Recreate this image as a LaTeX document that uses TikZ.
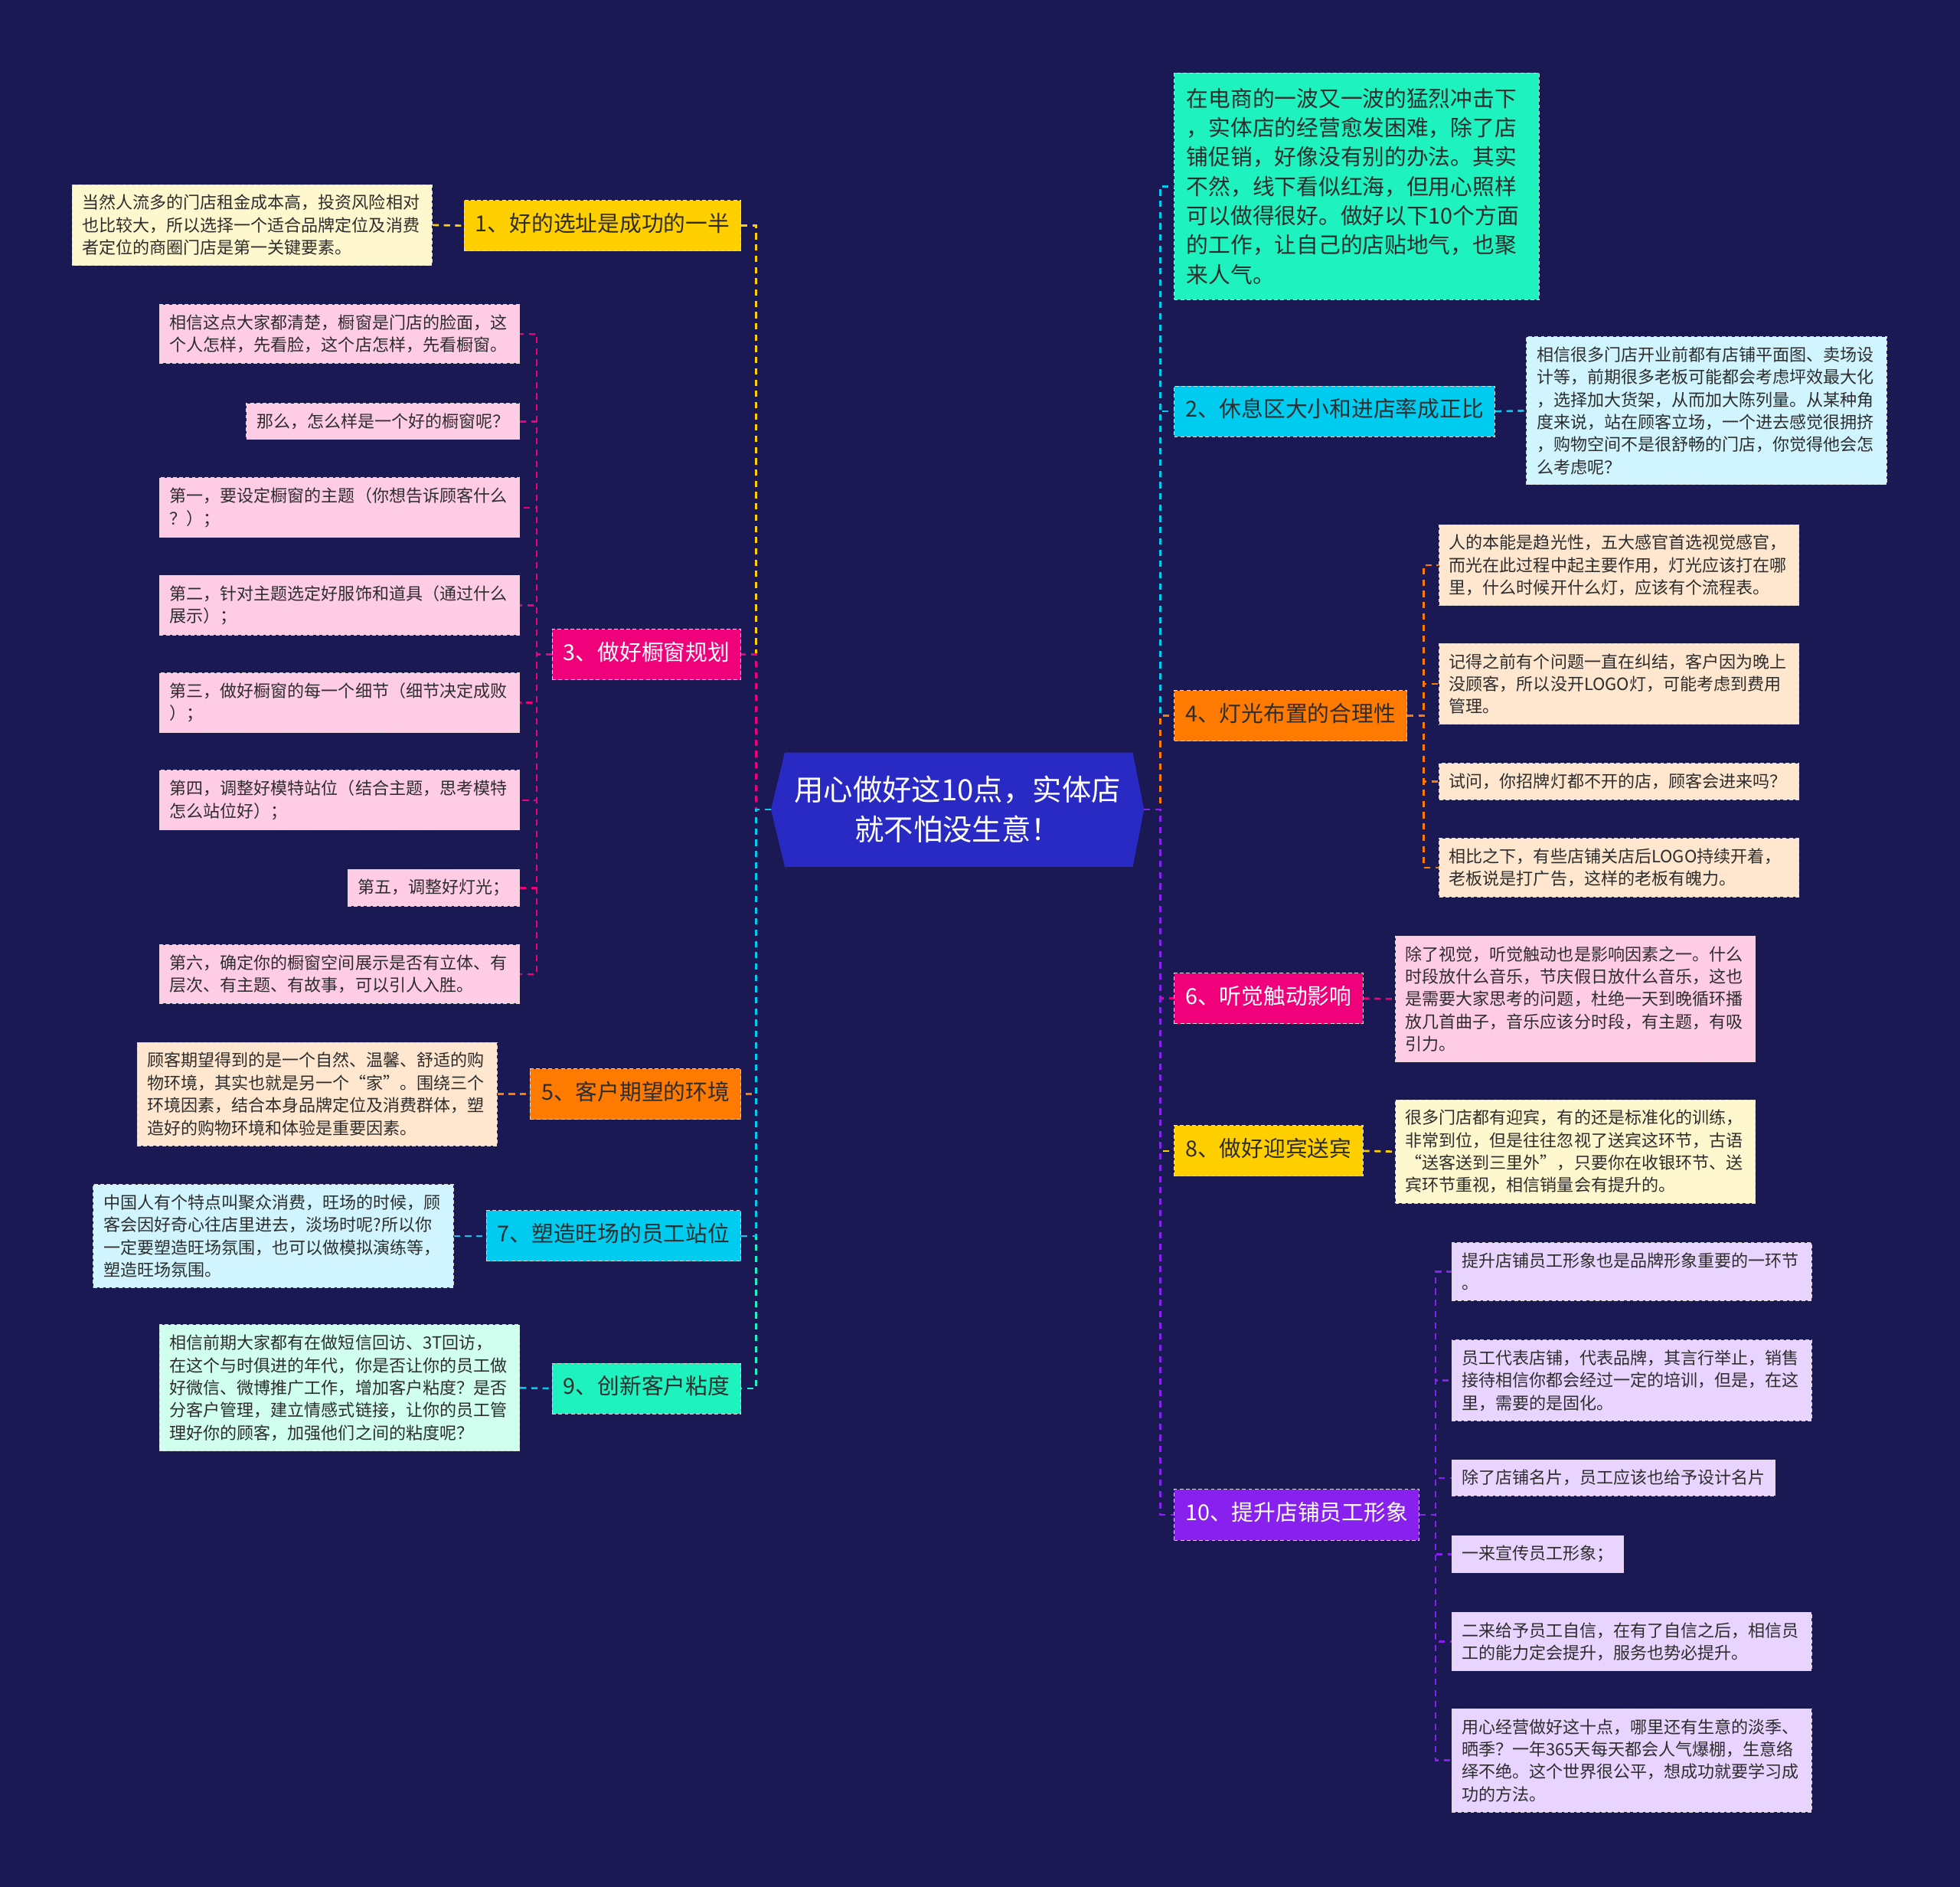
\documentclass[tikz,border=0pt]{standalone}
\usepackage{fontspec}
\setmainfont{Noto Sans CJK SC}
\usetikzlibrary{backgrounds}

\definecolor{navy}{RGB}{27,25,84}
\definecolor{hexblue}{RGB}{41,41,196}
\definecolor{ylw}{RGB}{255,207,0}
\definecolor{ylwlt}{RGB}{255,248,206}
\definecolor{pnk}{RGB}{240,0,122}
\definecolor{pnklt}{RGB}{255,204,230}
\definecolor{org}{RGB}{255,122,0}
\definecolor{orglt}{RGB}{255,230,206}
\definecolor{cyn}{RGB}{0,204,240}
\definecolor{cynlt}{RGB}{208,245,255}
\definecolor{mnt}{RGB}{30,242,190}
\definecolor{mntlt}{RGB}{208,255,240}
\definecolor{prp}{RGB}{136,32,238}
\definecolor{prplt}{RGB}{232,212,255}
\definecolor{ink}{RGB}{45,45,45}

\begin{document}
\begin{tikzpicture}[x=1pt,y=-1pt,
  box/.style={draw=white!85!black,densely dashed,line width=0.6pt,inner xsep=8pt,inner ysep=8pt,align=left,text=ink,font=\fontsize{13.5}{18}\selectfont},
  wide/.style={text width=272pt},
  branch/.style={draw=white!85!black,densely dashed,line width=0.6pt,inner xsep=9pt,inner ysep=12pt,text height=13pt,text depth=3.5pt,text=ink,font=\fontsize{17.6}{21}\selectfont},
  conn/.style={dash pattern=on 5pt off 4pt,line width=1.6pt}]
\useasboundingbox (0,0) rectangle (1568,1509);

% centre
\node[text=white,align=center,minimum width=298pt,minimum height=91pt,inner sep=0pt,font=\fontsize{23.5}{32}\selectfont] (C) at (766,647.5) {用心做好这10点，实体店\\就不怕没生意！};
\begin{scope}[on background layer]
  \fill[navy] (0,0) rectangle (1568,1509);
  \fill[hexblue] (C.west) -- ([xshift=11pt]C.north west) -- ([xshift=-9pt]C.north east) -- (C.east) -- ([xshift=-9pt]C.south east) -- ([xshift=11pt]C.south west) -- cycle;
\end{scope}

% left branches
\node[branch,fill=ylw,anchor=east] (B1) at (593,180.5) {1、好的选址是成功的一半};
\node[branch,fill=pnk,text=white,anchor=east] (B3) at (593,523.5) {3、做好橱窗规划};
\node[branch,fill=org,anchor=east] (B5) at (593,875) {5、客户期望的环境};
\node[branch,fill=cyn,anchor=east] (B7) at (593,988.5) {7、塑造旺场的员工站位};
\node[branch,fill=mnt,anchor=east] (B9) at (593,1110.5) {9、创新客户粘度};

% left leaves
\node[box,wide,fill=ylwlt,anchor=east] (L1) at (346,180) {当然人流多的门店租金成本高，投资风险相对\\也比较大，所以选择一个适合品牌定位及消费\\者定位的商圈门店是第一关键要素。};
\node[box,wide,fill=pnklt,anchor=east] (L3a) at (416,267) {相信这点大家都清楚，橱窗是门店的脸面，这\\个人怎样，先看脸，这个店怎样，先看橱窗。};
\node[box,fill=pnklt,anchor=east] (L3b) at (416,337) {那么，怎么样是一个好的橱窗呢？};
\node[box,wide,fill=pnklt,anchor=east] (L3c) at (416,406) {第一，要设定橱窗的主题（你想告诉顾客什么\\？）；};
\node[box,wide,fill=pnklt,anchor=east] (L3d) at (416,484) {第二，针对主题选定好服饰和道具（通过什么\\展示）；};
\node[box,wide,fill=pnklt,anchor=east] (L3e) at (416,562) {第三，做好橱窗的每一个细节（细节决定成败\\）；};
\node[box,wide,fill=pnklt,anchor=east] (L3f) at (416,640) {第四，调整好模特站位（结合主题，思考模特\\怎么站位好）；};
\node[box,fill=pnklt,anchor=east] (L3g) at (416,710) {第五，调整好灯光；};
\node[box,wide,fill=pnklt,anchor=east] (L3h) at (416,779) {第六，确定你的橱窗空间展示是否有立体、有\\层次、有主题、有故事，可以引人入胜。};
\node[box,wide,fill=orglt,anchor=east] (L5) at (398,875) {顾客期望得到的是一个自然、温馨、舒适的购\\物环境，其实也就是另一个“家”。围绕三个\\环境因素，结合本身品牌定位及消费群体，塑\\造好的购物环境和体验是重要因素。};
\node[box,wide,fill=cynlt,anchor=east] (L7) at (363,988.5) {中国人有个特点叫聚众消费，旺场的时候，顾\\客会因好奇心往店里进去，淡场时呢?所以你\\一定要塑造旺场氛围，也可以做模拟演练等，\\塑造旺场氛围。};
\node[box,wide,fill=mntlt,anchor=east] (L9) at (416,1110) {相信前期大家都有在做短信回访、3T回访，\\在这个与时俱进的年代，你是否让你的员工做\\好微信、微博推广工作，增加客户粘度？是否\\分客户管理，建立情感式链接，让你的员工管\\理好你的顾客，加强他们之间的粘度呢？};

% right side
\node[box,fill=mnt,anchor=west,text width=272pt,inner xsep=10pt,inner ysep=12pt,font=\fontsize{17.6}{23.5}\selectfont] (T) at (939,149) {在电商的一波又一波的猛烈冲击下\\，实体店的经营愈发困难，除了店\\铺促销，好像没有别的办法。其实\\不然，线下看似红海，但用心照样\\可以做得很好。做好以下10个方面\\的工作，让自己的店贴地气，也聚\\来人气。};
\node[branch,fill=cyn,anchor=west] (B2) at (939,329) {2、休息区大小和进店率成正比};
\node[branch,fill=org,anchor=west] (B4) at (939,572.5) {4、灯光布置的合理性};
\node[branch,fill=pnk,text=white,anchor=west] (B6) at (939,798.5) {6、听觉触动影响};
\node[branch,fill=ylw,anchor=west] (B8) at (939,920.5) {8、做好迎宾送宾};
\node[branch,fill=prp,text=white,anchor=west] (B10) at (939,1211.5) {10、提升店铺员工形象};

\node[box,wide,fill=cynlt,anchor=west] (L2) at (1221,328.5) {相信很多门店开业前都有店铺平面图、卖场设\\计等，前期很多老板可能都会考虑坪效最大化\\，选择加大货架，从而加大陈列量。从某种角\\度来说，站在顾客立场，一个进去感觉很拥挤\\，购物空间不是很舒畅的门店，你觉得他会怎\\么考虑呢？};
\node[box,wide,fill=orglt,anchor=west] (L4a) at (1151,452) {人的本能是趋光性，五大感官首选视觉感官，\\而光在此过程中起主要作用，灯光应该打在哪\\里，什么时候开什么灯，应该有个流程表。};
\node[box,wide,fill=orglt,anchor=west] (L4b) at (1151,547) {记得之前有个问题一直在纠结，客户因为晚上\\没顾客，所以没开LOGO灯，可能考虑到费用\\管理。};
\node[box,wide,fill=orglt,anchor=west] (L4c) at (1151,625) {试问，你招牌灯都不开的店，顾客会进来吗？};
\node[box,wide,fill=orglt,anchor=west] (L4d) at (1151,694) {相比之下，有些店铺关店后LOGO持续开着，\\老板说是打广告，这样的老板有魄力。};
\node[box,wide,fill=pnklt,anchor=west] (L6) at (1116,799) {除了视觉，听觉触动也是影响因素之一。什么\\时段放什么音乐，节庆假日放什么音乐，这也\\是需要大家思考的问题，杜绝一天到晚循环播\\放几首曲子，音乐应该分时段，有主题，有吸\\引力。};
\node[box,wide,fill=ylwlt,anchor=west] (L8) at (1116,921) {很多门店都有迎宾，有的还是标准化的训练，\\非常到位，但是往往忽视了送宾这环节，古语\\“送客送到三里外”，只要你在收银环节、送\\宾环节重视，相信销量会有提升的。};
\node[box,wide,fill=prplt,anchor=west] (L10a) at (1161,1017) {提升店铺员工形象也是品牌形象重要的一环节\\。};
\node[box,wide,fill=prplt,anchor=west] (L10b) at (1161,1104) {员工代表店铺，代表品牌，其言行举止，销售\\接待相信你都会经过一定的培训，但是，在这\\里，需要的是固化。};
\node[box,fill=prplt,anchor=west] (L10c) at (1161,1182) {除了店铺名片，员工应该也给予设计名片};
\node[box,fill=prplt,anchor=west] (L10d) at (1161,1243) {一来宣传员工形象；};
\node[box,wide,fill=prplt,anchor=west] (L10e) at (1161,1313) {二来给予员工自信，在有了自信之后，相信员\\工的能力定会提升，服务也势必提升。};
\node[box,wide,fill=prplt,anchor=west] (L10f) at (1161,1408) {用心经营做好这十点，哪里还有生意的淡季、\\晒季？一年365天每天都会人气爆棚，生意络\\绎不绝。这个世界很公平，想成功就要学习成\\功的方法。};

% connectors
\foreach \b/\c in {B1/ylw,B3/pnk,B5/org,B9/mnt,B7/cyn}
  \draw[conn,\c] (C.west) -- ++(-12,0) |- (\b.east);
\foreach \b/\c in {T/cyn,B2/cyn,B4/org,B6/pnk,B8/ylw,B10/prp}
  \draw[conn,\c] (C.east) -- ++(13,0) |- (\b.west);

\draw[conn,ylw] (L1.east) -- (B1.west);
\foreach \l in {a,...,h}
  \draw[conn,pnk] (B3.west) -- ++(-12,0) |- (L3\l.east);
\draw[conn,org] (L5.east) -- (B5.west);
\draw[conn,cyn] (L7.east) -- (B7.west);
\draw[conn,cyn] (L9.east) -- (B9.west);

\draw[conn,cyn] (B2.east) -- (L2.west);
\foreach \l in {a,...,d}
  \draw[conn,org] (B4.east) -- ++(13,0) |- (L4\l.west);
\draw[conn,pnk] (B6.east) -- (L6.west);
\draw[conn,ylw] (B8.east) -- (L8.west);
\foreach \l in {a,...,f}
  \draw[conn,prp] (B10.east) -- ++(13,0) |- (L10\l.west);
\end{tikzpicture}
\end{document}
